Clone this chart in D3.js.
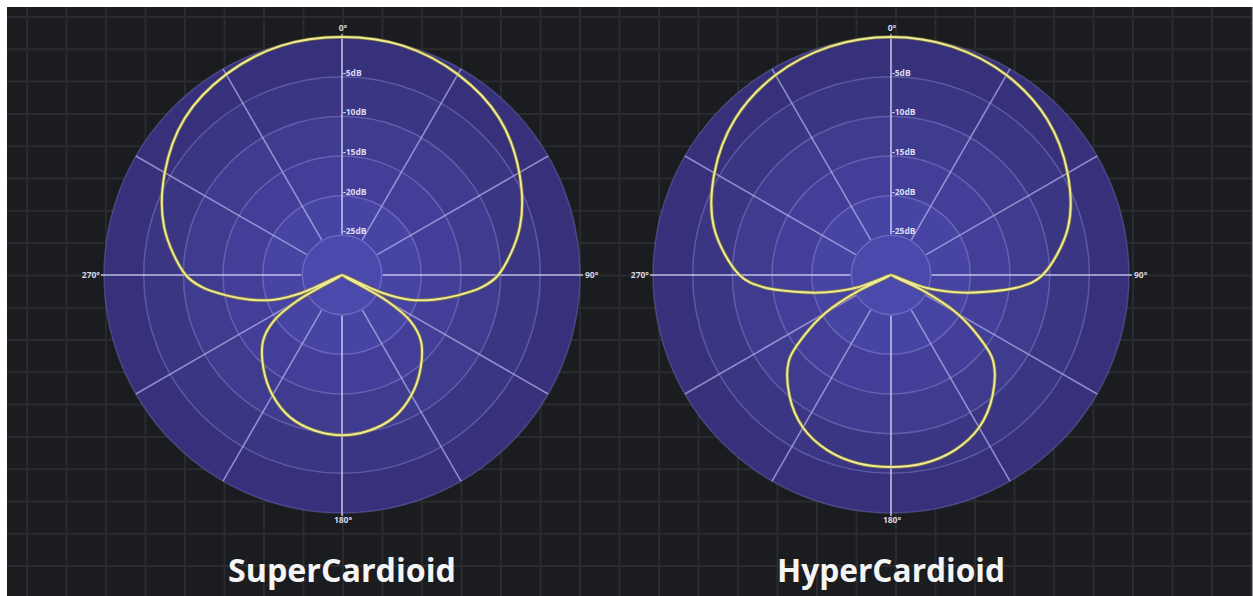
<!DOCTYPE html>
<html>
<head>
<meta charset="utf-8">
<script src="https://cdn.jsdelivr.net/npm/d3@7"></script>
<style>
  html, body { margin: 0; padding: 0; background: #fff; }
  svg { display: block; }
</style>
</head>
<body>
<svg id="chart"></svg>
<script>
// pattern values (degrees clockwise from 0°, level in dB)
const superAngles = [0, 15, 30, 45, 60, 75, 90, 95, 100, 105, 110, 114, 117, 120, 124, 130, 140, 150, 160, 170,
                     180, 190, 200, 210, 220, 230, 236, 240, 243, 246, 250, 255, 260, 265, 270, 285, 300, 315, 330, 345];
const superDb = [0, -0.1, -0.8, -2.0, -4.2, -6.8, -10.3, -12.3, -15.2, -18.0, -20.9, -24.5, -30, -23.5, -19.6, -17.0, -14.6, -12.5, -10.9, -10.1,
                 -9.8, -10.1, -10.9, -12.5, -14.6, -17.0, -19.6, -23.5, -30, -24.5, -20.9, -18.0, -15.2, -12.3, -10.3, -6.8, -4.2, -2.0, -0.8, -0.1];

const hyperAngles = [0, 15, 30, 45, 60, 75, 90, 95, 100, 105, 110, 113, 116, 120, 125, 130, 140, 150, 160, 170,
                     180, 190, 200, 210, 220, 230, 235, 240, 244, 247, 250, 255, 260, 265, 270, 285, 300, 315, 330, 345];
const hyperDb = [0, -0.2, -0.9, -2.2, -4.3, -6.9, -10.9, -13.5, -17.8, -21.6, -25.3, -30, -25.5, -20.5, -16.6, -13.2, -10.1, -7.8, -6.5, -5.9,
                 -5.8, -5.9, -6.5, -7.8, -10.1, -13.2, -16.6, -20.5, -25.5, -30, -25.3, -21.6, -17.8, -13.5, -10.9, -6.9, -4.3, -2.2, -0.9, -0.2];

const dbTicks = [-5, -10, -15, -20, -25];
const dbLabels = ['-5dB', '-10dB', '-15dB', '-20dB', '-25dB'];
const spokeAngles = [0, 30, 60, 90, 120, 150, 180, 210, 240, 270, 300, 330];
const axisAngles = [0, 90, 180, 270];
const axisLabels = ['0°', '90°', '180°', '270°'];
const titles = ['SuperCardioid', 'HyperCardioid'];

const W = 1253, H = 596;
const R = 238;
const centers = [[342, 275], [891, 275]];

const svg = d3.select('#chart').attr('width', W).attr('height', H);

// dark backdrop with thin white border at top/left
svg.append('rect').attr('x', 7).attr('y', 7).attr('width', W - 9).attr('height', H - 7).attr('fill', '#1b1c1f');

// background grid
const grid = svg.append('g');
d3.range(27, W, 39.5).forEach(x => {
    grid.append('line').attr('x1', x).attr('x2', x).attr('y1', 7).attr('y2', H)
        .attr('stroke', '#2a2b30').attr('stroke-width', 2);
});
d3.range(17, H, 32.3).forEach(y => {
    grid.append('line').attr('x1', 7).attr('x2', W - 2).attr('y1', y).attr('y2', y)
        .attr('stroke', '#2a2b30').attr('stroke-width', 2);
});

const rScale = d3.scaleLinear().domain([-30, 0]).range([0, R]).clamp(true);
const bandColor = d3.scaleLinear().domain([0, 5]).range(['#36317a', '#4c49ad']);
const toRad = d => d * Math.PI / 180;

function drawPolar(cx, cy, angles, db, title) {
    const g = svg.append('g').attr('transform', `translate(${cx},${cy})`);

    // shaded bands, darker toward the rim
    const bands = [0].concat(dbTicks);
    bands.forEach((d, i) => {
        g.append('circle').attr('r', rScale(d)).attr('fill', bandColor(i))
            .attr('stroke', i === 0 ? 'rgba(130,130,210,0.35)' : 'rgba(190,190,255,0.28)')
            .attr('stroke-width', 1.5);
    });

    // spokes every 30 degrees
    spokeAngles.forEach(a => {
        const r0 = rScale(-25) + 1;
        const r1 = axisAngles.includes(a) ? R + 3 : R;
        g.append('line')
            .attr('x1', r0 * Math.sin(toRad(a))).attr('y1', -r0 * Math.cos(toRad(a)))
            .attr('x2', r1 * Math.sin(toRad(a))).attr('y2', -r1 * Math.cos(toRad(a)))
            .attr('stroke', axisAngles.includes(a) ? 'rgba(215,215,250,0.85)' : 'rgba(200,200,250,0.6)')
            .attr('stroke-width', 1.6);
    });

    // dB labels along the 0° axis
    dbTicks.forEach((d, i) => {
        g.append('text')
            .attr('x', 1).attr('y', -rScale(d) - 1)
            .attr('font-family', 'Open Sans, sans-serif').attr('font-weight', 'bold')
            .attr('font-size', 8.5).attr('fill', '#dcdcf2')
            .text(dbLabels[i]);
    });

    // angle labels
    axisAngles.forEach((a, i) => {
        const text = g.append('text')
            .attr('font-family', 'Open Sans, sans-serif').attr('font-weight', 'bold')
            .attr('font-size', 8.5).attr('fill', '#d8d8e4')
            .attr('dominant-baseline', 'middle')
            .text(axisLabels[i]);
        if (a === 0) text.attr('x', 1).attr('y', -246).attr('text-anchor', 'middle');
        if (a === 180) text.attr('x', 1).attr('y', 246).attr('text-anchor', 'middle');
        if (a === 90) text.attr('x', R + 5).attr('y', 1).attr('text-anchor', 'start');
        if (a === 270) text.attr('x', -R - 4).attr('y', 1).attr('text-anchor', 'end');
    });

    // pattern curve
    const pts = angles.map((a, i) => [toRad(a), rScale(db[i])]);
    const line = d3.lineRadial().curve(d3.curveCatmullRomClosed.alpha(0.5));
    g.append('path').attr('d', line(pts)).attr('fill', 'none')
        .attr('stroke', '#8c8530').attr('stroke-width', 3.6).attr('stroke-opacity', 0.8);
    g.append('path').attr('d', line(pts)).attr('fill', 'none')
        .attr('stroke', '#eeea96').attr('stroke-width', 2);

    // title
    svg.append('text')
        .attr('x', cx).attr('y', 582)
        .attr('text-anchor', 'middle')
        .attr('font-family', 'Open Sans, sans-serif').attr('font-weight', 'bold')
        .attr('font-size', 33).attr('fill', '#f5f5f5')
        .attr('textLength', 228).attr('lengthAdjust', 'spacingAndGlyphs')
        .text(title);
}

drawPolar(centers[0][0], centers[0][1], superAngles, superDb, titles[0]);
drawPolar(centers[1][0], centers[1][1], hyperAngles, hyperDb, titles[1]);
</script>
</body>
</html>
